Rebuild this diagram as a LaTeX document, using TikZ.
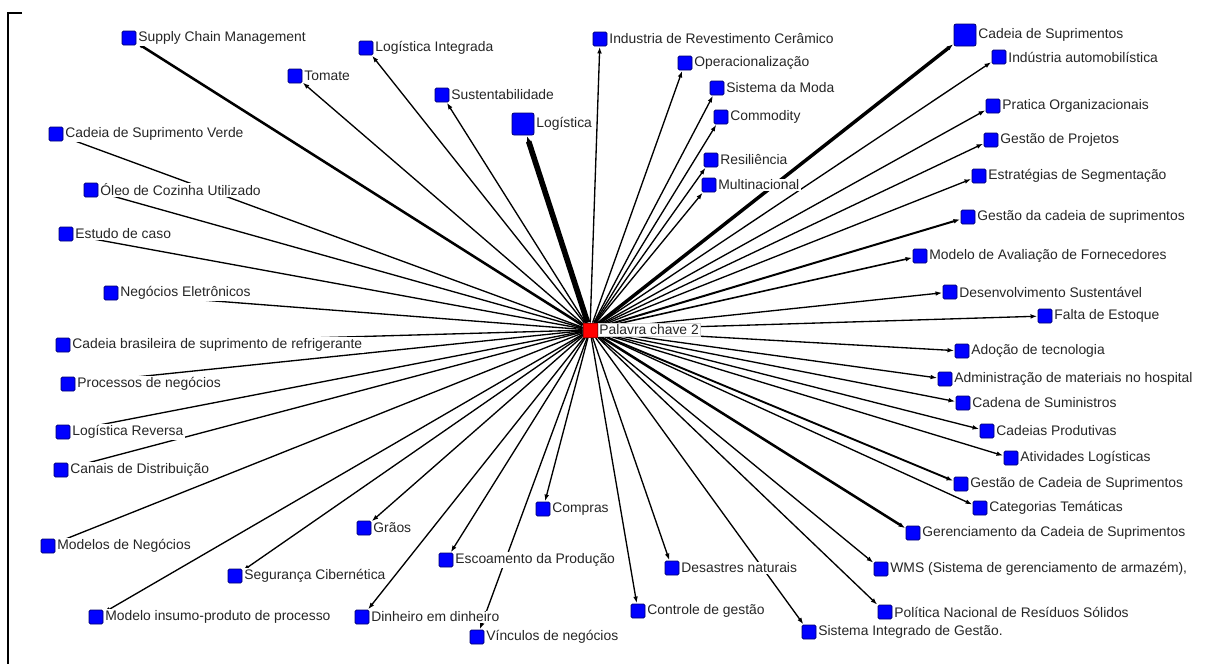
\documentclass[tikz,border=0pt]{standalone}
\usepackage{fontspec}
\setmainfont{Liberation Sans}
\usetikzlibrary{arrows.meta,backgrounds}
\definecolor{navy}{RGB}{0,0,110}
\newcommand{\lblfont}{\fontsize{10.4}{12}\selectfont}
\tikzset{
  kw/.style={rectangle, fill=blue, draw=navy, line width=0.6pt, minimum size=10.5pt, inner sep=0pt, rounded corners=1pt},
  kwbig/.style={kw, minimum size=16.5pt, rounded corners=1.5pt},
  hub/.style={rectangle, fill=red, draw=red!70!black, line width=0.5pt, minimum size=10.5pt, inner sep=0pt},
  lbl/.style={font=\lblfont, fill=white, inner sep=1pt, text=black!85, label distance=0.3pt},
  hublbl/.style={lbl, draw=gray!35, line width=0.4pt},
  link/.style={-{Latex[length=5pt,width=3.5pt]}, line width=1pt, shorten >=0.3pt}
}
\begin{document}
\begin{tikzpicture}[x=0.75pt,y=-0.75pt]
\useasboundingbox (0,0) rectangle (1208,664);
\draw[line width=1.5pt] (22,13) -- (8,13) -- (8,664);
% central keyword
\node[hub, label={[hublbl]right:{Palavra chave 2}}] (hub) at (590,330) {};
% left side
\node[kw, label={[lbl]right:{Supply Chain Management}}] (scm) at (129,38) {};
\node[kw, label={[lbl]right:{Tomate}}] (tomate) at (295,76) {};
\node[kw, label={[lbl]right:{Logística Integrada}}] (logint) at (366,48) {};
\node[kw, label={[lbl]right:{Cadeia de Suprimento Verde}}] (verde) at (56,134) {};
\node[kw, label={[lbl]right:{Óleo de Cozinha Utilizado}}] (oleo) at (91,190) {};
\node[kw, label={[lbl]right:{Estudo de caso}}] (caso) at (66,234) {};
\node[kw, label={[lbl]right:{Negócios Eletrônicos}}] (eletr) at (111,293) {};
\node[kw, label={[lbl]right:{Cadeia brasileira de suprimento de refrigerante}}] (refri) at (63,345) {};
\node[kw, label={[lbl]right:{Processos de negócios}}] (procneg) at (68,384) {};
\node[kw, label={[lbl]right:{Logística Reversa}}] (logrev) at (63,432) {};
\node[kw, label={[lbl]right:{Canais de Distribuição}}] (canais) at (61,470) {};
\node[kw, label={[lbl]right:{Modelos de Negócios}}] (modneg) at (48,546) {};
\node[kw, label={[lbl]right:{Segurança Cibernética}}] (ciber) at (235,576) {};
\node[kw, label={[lbl]right:{Modelo insumo-produto de processo}}] (insumo) at (96,617) {};
% bottom
\node[kw, label={[lbl]right:{Grãos}}] (graos) at (364,528) {};
\node[kw, label={[lbl]right:{Dinheiro em dinheiro}}] (dinheiro) at (362,617) {};
\node[kw, label={[lbl]right:{Compras}}] (compras) at (543,509) {};
\node[kw, label={[lbl]right:{Escoamento da Produção}}] (escoam) at (446,560) {};
\node[kw, label={[lbl]right:{Vínculos de negócios}}] (vinculos) at (477,637) {};
\node[kw, label={[lbl]right:{Controle de gestão}}] (controle) at (638,611) {};
\node[kw, label={[lbl]right:{Desastres naturais}}] (desastres) at (672,568) {};
\node[kw, label={[lbl]right:{Sistema Integrado de Gestão.}}] (sig) at (809,632) {};
\node[kw, label={[lbl]right:{Política Nacional de Resíduos Sólidos}}] (pnrs) at (885,612) {};
\node[kw, label={[lbl]right:{WMS (Sistema de gerenciamento de armazém),}}] (wms) at (881,569) {};
% right side
\node[kw, label={[lbl]right:{Gerenciamento da Cadeia de Suprimentos}}] (gerenc) at (913,533) {};
\node[kw, label={[lbl]right:{Categorias Temáticas}}] (categ) at (980,508) {};
\node[kw, label={[lbl]right:{Gestão de Cadeia de Suprimentos}}] (gcs) at (961,484) {};
\node[kw, label={[lbl]right:{Atividades Logísticas}}] (ativ) at (1011,458) {};
\node[kw, label={[lbl]right:{Cadeias Produtivas}}] (prod) at (987,431) {};
\node[kw, label={[lbl]right:{Cadena de Suministros}}] (cadena) at (963,403) {};
\node[kw, label={[lbl]right:{Administração de materiais no hospital}}] (hosp) at (945,379) {};
\node[kw, label={[lbl]right:{Adoção de tecnologia}}] (adocao) at (962,351) {};
\node[kw, label={[lbl]right:{Falta de Estoque}}] (falta) at (1045,316) {};
\node[kw, label={[lbl]right:{Desenvolvimento Sustentável}}] (desenv) at (950,292) {};
\node[kw, label={[lbl]right:{Modelo de Avaliação de Fornecedores}}] (aval) at (920,256) {};
\node[kw, label={[lbl]right:{Gestão da cadeia de suprimentos}}] (gcadeia) at (968,217) {};
\node[kw, label={[lbl]right:{Estratégias de Segmentação}}] (segm) at (979,176) {};
\node[kw, label={[lbl]right:{Gestão de Projetos}}] (proj) at (991,140) {};
\node[kw, label={[lbl]right:{Pratica Organizacionais}}] (pratica) at (993,106) {};
\node[kw, label={[lbl]right:{Indústria automobilística}}] (auto) at (999,57) {};
\node[kwbig, label={[lbl]right:{Cadeia de Suprimentos}}] (cadeia) at (965,35) {};
% top
\node[kw, label={[lbl]right:{Industria de Revestimento Cerâmico}}] (ceram) at (600,39) {};
\node[kw, label={[lbl]right:{Operacionalização}}] (operac) at (685,63) {};
\node[kw, label={[lbl]right:{Sistema da Moda}}] (moda) at (717,88) {};
\node[kw, label={[lbl]right:{Commodity}}] (commod) at (721,117) {};
\node[kw, label={[lbl]right:{Resiliência}}] (resil) at (711,160) {};
\node[kw, label={[lbl]right:{Multinacional}}] (multi) at (709,185) {};
\node[kwbig, label={[lbl]right:{Logística}}] (logist) at (523,124) {};
\node[kw, label={[lbl]right:{Sustentabilidade}}] (sust) at (442,95) {};
% links
\begin{pgfonlayer}{background}
\foreach \n in {tomate,logint,verde,oleo,caso,eletr,refri,procneg,logrev,canais,modneg,ciber,insumo,
  graos,dinheiro,compras,escoam,vinculos,controle,desastres,sig,pnrs,wms,categ,ativ,prod,cadena,
  hosp,adocao,falta,desenv,segm,proj,pratica,auto,ceram,operac,moda,commod,resil,multi,sust}
  \draw[link] (hub) -- (\n);
\foreach \n/\w in {scm/1.9pt,gerenc/1.9pt,gcs/1.4pt,gcadeia/1.5pt,aval/1.2pt,cadeia/2.6pt,logist/4.2pt}
  \draw[link, line width=\w] (hub) -- (\n);
\end{pgfonlayer}
\end{tikzpicture}
\end{document}
